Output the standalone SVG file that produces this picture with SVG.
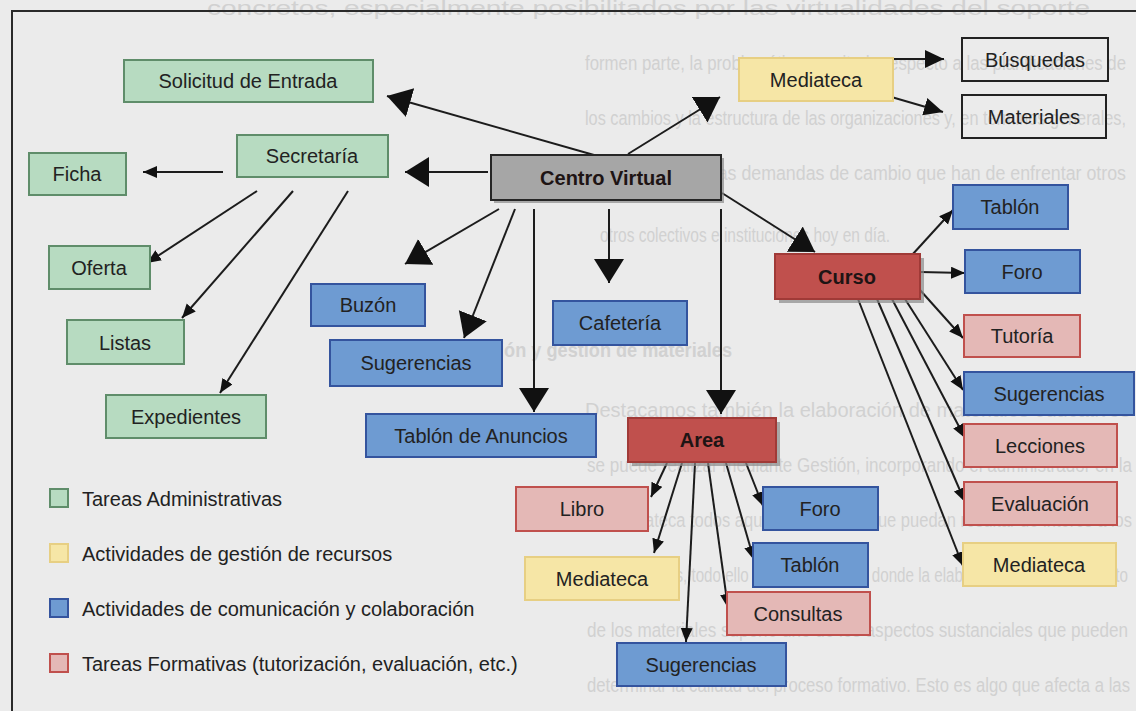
<svg xmlns="http://www.w3.org/2000/svg" width="1136" height="711" viewBox="0 0 1136 711">
  <defs>
    <style>
      .bg-text { font-family: "Liberation Sans", Arial, sans-serif; font-size: 20px; fill: #d1d1d1; }
      .bg-head { font-family: "Liberation Sans", Arial, sans-serif; font-size: 20px; font-weight: bold; fill: #d1d1d1; }
      .lbl { font-family: "Liberation Sans", Arial, sans-serif; font-size: 20px; fill: #222; text-anchor: middle; dominant-baseline: central; }
      .lbl-b { font-family: "Liberation Sans", Arial, sans-serif; font-size: 20px; font-weight: bold; fill: #1e1414; text-anchor: middle; dominant-baseline: central; }
      .legend-text { font-family: "Liberation Sans", Arial, sans-serif; font-size: 20px; fill: #222; dominant-baseline: central; }
      .green { fill: #b7dbc1; stroke: #5f8d6a; stroke-width: 2; }
      .blue { fill: #6e9bd2; stroke: #34549e; stroke-width: 2; }
      .pink { fill: #e4b8b6; stroke: #c0504d; stroke-width: 2; }
      .yellow { fill: #f6e6a6; stroke: #e7cf83; stroke-width: 2; }
      .plain { fill: none; stroke: #222; stroke-width: 2; }
      .red { fill: #c0504d; stroke: #a03a37; stroke-width: 2; }
      .grey { fill: #a6a6a6; stroke: #262626; stroke-width: 2; }
      .shadow { fill: #8a8a8a; opacity: 0.7; }
      .edge { stroke: #1c1c1c; stroke-width: 2; fill: none; }
      .edge-l { marker-end: url(#ahL); }
      .edge-m { marker-end: url(#ahM); }
      .edge-s { marker-end: url(#ahS); }
    </style>
    <marker id="ahL" markerUnits="userSpaceOnUse" markerWidth="26" markerHeight="32" refX="24" refY="15" orient="auto">
      <path d="M0,0 L24,15 L0,30 z" fill="#111"/>
    </marker>
    <marker id="ahM" markerUnits="userSpaceOnUse" markerWidth="22" markerHeight="20" refX="19" refY="9" orient="auto">
      <path d="M0,0 L19,9 L0,18 z" fill="#111"/>
    </marker>
    <marker id="ahS" markerUnits="userSpaceOnUse" markerWidth="16" markerHeight="14" refX="14" refY="6" orient="auto">
      <path d="M0,0 L14,6 L0,12 z" fill="#111"/>
    </marker>
  </defs>

  <!-- page -->
  <rect x="0" y="0" width="1136" height="711" fill="#ebebeb"/>

  <!-- faint running text of the page behind the figure -->
  <g id="page-text">
    <text class="bg-text" x="207" y="15" textLength="883" lengthAdjust="spacingAndGlyphs">concretos, especialmente posibilitados por las virtualidades del soporte</text>
    <text class="bg-text" x="585" y="70" textLength="541" lengthAdjust="spacingAndGlyphs">formen parte, la problemática suscitada respecto a las planificaciones de</text>
    <text class="bg-text" x="585" y="125" textLength="541" lengthAdjust="spacingAndGlyphs">los cambios y la estructura de las organizaciones y, en términos generales,</text>
    <text class="bg-text" x="600" y="180" textLength="526" lengthAdjust="spacingAndGlyphs">coinciden con las demandas de cambio que han de enfrentar otros</text>
    <text class="bg-text" x="600" y="242" textLength="290" lengthAdjust="spacingAndGlyphs">otros colectivos e instituciones hoy en día.</text>
    <text class="bg-head" x="372" y="357" textLength="360" lengthAdjust="spacingAndGlyphs">4.2.3. Elaboración y gestión de materiales</text>
    <text class="bg-text" x="585" y="417" textLength="545" lengthAdjust="spacingAndGlyphs">Destacamos también la elaboración de materiales educativos</text>
    <text class="bg-text" x="587" y="472" textLength="545" lengthAdjust="spacingAndGlyphs">se puede realizar mediante Gestión, incorporando el administrador en la</text>
    <text class="bg-text" x="578" y="527" textLength="554" lengthAdjust="spacingAndGlyphs">a la mediateca todos aquellos recursos que puedan resultar de interés a los</text>
    <text class="bg-text" x="587" y="582" textLength="541" lengthAdjust="spacingAndGlyphs">teleformandos, todo ello en un entorno en donde la elaboración y mantenimiento</text>
    <text class="bg-text" x="587" y="637" textLength="541" lengthAdjust="spacingAndGlyphs">de los materiales supone uno de los aspectos sustanciales que pueden</text>
    <text class="bg-text" x="587" y="692" textLength="543" lengthAdjust="spacingAndGlyphs">determinar la calidad del proceso formativo. Esto es algo que afecta a las</text>
  </g>

  <!-- figure frame -->
  <path d="M12,711 L12,11 L1136,11" fill="none" stroke="#2a2a2a" stroke-width="2"/>

  <!-- connectors -->
  <g id="connectors">
    <!-- Centro Virtual -->
    <line class="edge edge-l" x1="594" y1="155" x2="387" y2="96"/>
    <line class="edge edge-l" x1="488" y1="172" x2="405" y2="172"/>
    <line class="edge edge-l" x1="628" y1="154" x2="720" y2="97"/>
    <line class="edge edge-l" x1="722" y1="193" x2="815" y2="252"/>
    <line class="edge edge-l" x1="499" y1="209" x2="405" y2="264"/>
    <line class="edge edge-l" x1="515" y1="209" x2="464" y2="338"/>
    <line class="edge edge-l" x1="534" y1="209" x2="534" y2="412"/>
    <line class="edge edge-l" x1="609" y1="209" x2="609" y2="283"/>
    <line class="edge edge-l" x1="721" y1="209" x2="721" y2="414"/>
    <!-- Secretaría -->
    <line class="edge edge-s" x1="223" y1="172" x2="143" y2="172"/>
    <line class="edge edge-s" x1="257" y1="191" x2="147" y2="263"/>
    <line class="edge edge-s" x1="293" y1="191" x2="182" y2="318"/>
    <line class="edge edge-s" x1="348" y1="191" x2="220" y2="393"/>
    <!-- Mediateca -->
    <line class="edge edge-m" x1="888" y1="59" x2="944" y2="59"/>
    <line class="edge edge-m" x1="888" y1="96" x2="943" y2="112"/>
    <!-- Curso -->
    <line class="edge edge-s" x1="912" y1="255" x2="953" y2="210"/>
    <line class="edge edge-s" x1="920" y1="272" x2="965" y2="273"/>
    <line class="edge edge-s" x1="920" y1="290" x2="963" y2="338"/>
    <line class="edge edge-s" x1="905" y1="299" x2="963" y2="390"/>
    <line class="edge edge-s" x1="892" y1="299" x2="965" y2="438"/>
    <line class="edge edge-s" x1="877" y1="299" x2="965" y2="502"/>
    <line class="edge edge-s" x1="858" y1="299" x2="963" y2="566"/>
    <!-- Area -->
    <line class="edge edge-s" x1="667" y1="463" x2="651" y2="497"/>
    <line class="edge edge-s" x1="682" y1="463" x2="654" y2="553"/>
    <line class="edge edge-s" x1="695" y1="463" x2="686" y2="642"/>
    <line class="edge edge-s" x1="708" y1="463" x2="728" y2="608"/>
    <line class="edge edge-s" x1="726" y1="463" x2="754" y2="560"/>
    <line class="edge edge-s" x1="746" y1="463" x2="763" y2="506"/>
  </g>

  <!-- nodes -->
  <g id="centro-virtual">
    <rect class="shadow" x="494" y="158" width="230" height="45"/>
    <rect class="grey" x="491" y="155" width="230" height="45"/>
    <text class="lbl-b" x="606" y="178">Centro Virtual</text>
  </g>
  <g id="solicitud">
    <rect class="green" x="124" y="60" width="249" height="42"/>
    <text class="lbl" x="248" y="81">Solicitud de Entrada</text>
  </g>
  <g id="secretaria">
    <rect class="green" x="237" y="135" width="151" height="42"/>
    <text class="lbl" x="312" y="156">Secretaría</text>
  </g>
  <g id="ficha">
    <rect class="green" x="29" y="153" width="97" height="42"/>
    <text class="lbl" x="77" y="174">Ficha</text>
  </g>
  <g id="oferta">
    <rect class="green" x="49" y="246" width="101" height="43"/>
    <text class="lbl" x="99" y="268">Oferta</text>
  </g>
  <g id="listas">
    <rect class="green" x="67" y="320" width="117" height="44"/>
    <text class="lbl" x="125" y="343">Listas</text>
  </g>
  <g id="expedientes">
    <rect class="green" x="106" y="395" width="160" height="43"/>
    <text class="lbl" x="186" y="417">Expedientes</text>
  </g>
  <g id="mediateca">
    <rect class="yellow" x="739" y="58" width="154" height="43"/>
    <text class="lbl" x="816" y="80">Mediateca</text>
  </g>
  <g id="busquedas">
    <rect class="plain" x="962" y="38" width="146" height="43"/>
    <text class="lbl" x="1035" y="60">Búsquedas</text>
  </g>
  <g id="materiales">
    <rect class="plain" x="962" y="95" width="144" height="43"/>
    <text class="lbl" x="1034" y="117">Materiales</text>
  </g>
  <g id="buzon">
    <rect class="blue" x="311" y="284" width="114" height="42"/>
    <text class="lbl" x="368" y="305">Buzón</text>
  </g>
  <g id="sugerencias-centro">
    <rect class="blue" x="330" y="340" width="172" height="46"/>
    <text class="lbl" x="416" y="363">Sugerencias</text>
  </g>
  <g id="cafeteria">
    <rect class="blue" x="553" y="301" width="134" height="44"/>
    <text class="lbl" x="620" y="323">Cafetería</text>
  </g>
  <g id="tablon-anuncios">
    <rect class="blue" x="366" y="414" width="230" height="43"/>
    <text class="lbl" x="481" y="436">Tablón de Anuncios</text>
  </g>
  <g id="curso">
    <rect class="shadow" x="779" y="258" width="145" height="45"/>
    <rect class="red" x="775" y="254" width="145" height="45"/>
    <text class="lbl-b" x="847" y="277">Curso</text>
  </g>
  <g id="curso-tablon">
    <rect class="blue" x="953" y="185" width="115" height="44"/>
    <text class="lbl" x="1010" y="207">Tablón</text>
  </g>
  <g id="curso-foro">
    <rect class="blue" x="965" y="250" width="115" height="43"/>
    <text class="lbl" x="1022" y="272">Foro</text>
  </g>
  <g id="curso-tutoria">
    <rect class="pink" x="964" y="315" width="116" height="42"/>
    <text class="lbl" x="1022" y="336">Tutoría</text>
  </g>
  <g id="curso-sugerencias">
    <rect class="blue" x="964" y="372" width="170" height="43"/>
    <text class="lbl" x="1049" y="394">Sugerencias</text>
  </g>
  <g id="curso-lecciones">
    <rect class="pink" x="964" y="424" width="153" height="43"/>
    <text class="lbl" x="1040" y="446">Lecciones</text>
  </g>
  <g id="curso-evaluacion">
    <rect class="pink" x="964" y="482" width="153" height="43"/>
    <text class="lbl" x="1040" y="504">Evaluación</text>
  </g>
  <g id="curso-mediateca">
    <rect class="yellow" x="963" y="543" width="153" height="43"/>
    <text class="lbl" x="1039" y="565">Mediateca</text>
  </g>
  <g id="area">
    <rect class="shadow" x="632" y="422" width="148" height="44"/>
    <rect class="red" x="628" y="418" width="148" height="44"/>
    <text class="lbl-b" x="702" y="440">Area</text>
  </g>
  <g id="area-libro">
    <rect class="pink" x="516" y="487" width="132" height="44"/>
    <text class="lbl" x="582" y="509">Libro</text>
  </g>
  <g id="area-foro">
    <rect class="blue" x="763" y="487" width="115" height="43"/>
    <text class="lbl" x="820" y="509">Foro</text>
  </g>
  <g id="area-mediateca">
    <rect class="yellow" x="525" y="557" width="154" height="43"/>
    <text class="lbl" x="602" y="579">Mediateca</text>
  </g>
  <g id="area-tablon">
    <rect class="blue" x="753" y="543" width="115" height="44"/>
    <text class="lbl" x="810" y="565">Tablón</text>
  </g>
  <g id="area-consultas">
    <rect class="pink" x="727" y="592" width="143" height="43"/>
    <text class="lbl" x="798" y="614">Consultas</text>
  </g>
  <g id="area-sugerencias">
    <rect class="blue" x="617" y="643" width="169" height="43"/>
    <text class="lbl" x="701" y="665">Sugerencias</text>
  </g>

  <!-- legend -->
  <g id="legend">
    <rect class="green" x="50" y="489" width="18" height="18" stroke-width="1.5"/>
    <text class="legend-text" x="82" y="499">Tareas Administrativas</text>
    <rect class="yellow" x="50" y="544" width="18" height="18" stroke-width="1.5"/>
    <text class="legend-text" x="82" y="554">Actividades de gestión de recursos</text>
    <rect class="blue" x="50" y="599" width="18" height="18" stroke-width="1.5"/>
    <text class="legend-text" x="82" y="609">Actividades de comunicación y colaboración</text>
    <rect class="pink" x="50" y="654" width="18" height="18" stroke-width="1.5"/>
    <text class="legend-text" x="82" y="664">Tareas Formativas (tutorización, evaluación, etc.)</text>
  </g>
</svg>
